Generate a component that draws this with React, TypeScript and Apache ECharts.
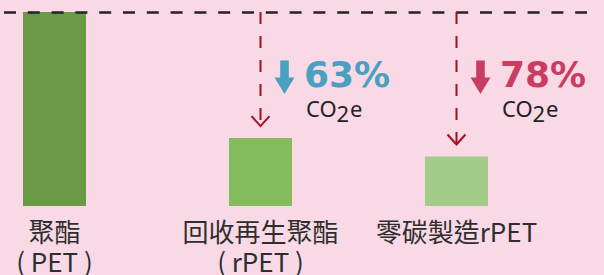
import React, { useEffect, useRef } from "react";
import * as echarts from "echarts";

// ---- data ----
const categories = ["聚酯\n( PET )", "回收再生聚酯\n( rPET )", "零碳製造rPET"];
const values = [100, 35, 25.5];
const reductions = ["63%", "78%"];
const reductionUnit = ["CO", "2", "e"];

// ---- layout / style (not data) ----
const barCenters = [54.5, 260.5, 456.5];
const barColors = ["#6a9a46", "#84bb5b", "#a2cc87"];
const reductionColors = ["#4aa0c0", "#c93d63"];
const BG = "#f9d9e5";

export default function App() {
  const ref = useRef<HTMLDivElement>(null);
  useEffect(() => {
    document.body.style.margin = "0";
    const chart = echarts.init(ref.current!, null, { renderer: "svg" });
    chart.setOption({
      animation: false,
      backgroundColor: BG,
      grid: { left: 0, right: 0, top: 12, bottom: 69, containLabel: false },
      xAxis: { type: "value", min: 0, max: 604, show: false },
      yAxis: { type: "value", min: 0, max: 100, show: false },
      series: [
        {
          type: "bar",
          barWidth: 63,
          data: values.map((v, i) => ({
            value: [barCenters[i], v],
            name: categories[i],
            itemStyle: { color: barColors[i] },
          })),
          label: {
            show: true,
            position: "bottom",
            distance: 9,
            formatter: (p: any) => p.name,
            fontFamily: "'Noto Sans CJK TC', 'Noto Sans', sans-serif",
            fontSize: 26,
            lineHeight: 30,
            color: "#2e2e2e",
            align: "center",
          },
          markLine: {
            silent: true,
            symbol: ["none", "none"],
            label: { show: false },
            lineStyle: { color: "#232323", width: 2.5, type: [12, 11.8] },
            data: [[{ coord: [4, 100] }, { coord: [587, 100] }]],
          },
        },
      ],
    });

    const graphics: any[] = [];
    const topPt = chart.convertToPixel({ gridIndex: 0 }, [0, 100]) as number[];
    for (let i = 1; i < values.length; i++) {
      const [px, py] = chart.convertToPixel({ gridIndex: 0 }, [barCenters[i], values[i]]) as number[];
      const tip = py - 12;
      const red = "#a50f1f";
      graphics.push({
        type: "line",
        shape: { x1: px, y1: topPt[1], x2: px, y2: tip - 1 },
        style: { stroke: red, lineWidth: 2, lineDash: [12, 12] },
        z: 10,
      });
      graphics.push({
        type: "polyline",
        shape: { points: [[px - 9, tip - 10], [px, tip], [px + 9, tip - 10]] },
        style: { stroke: red, lineWidth: 2, fill: null },
        z: 10,
      });
      const c = reductionColors[i - 1];
      const ax = px + 24;
      graphics.push({
        type: "rect",
        shape: { x: ax - 4.3, y: 60.5, width: 8.6, height: 18 },
        style: { fill: c },
        z: 10,
      });
      graphics.push({
        type: "polygon",
        shape: { points: [[ax - 10, 77.5], [ax + 10, 77.5], [ax, 94]] },
        style: { fill: c },
        z: 10,
      });
      const tx = px + 43.5;
      graphics.push({
        type: "text",
        x: tx,
        y: 74,
        style: {
          text: reductions[i - 1],
          fill: c,
          font: "bold 36px 'DejaVu Sans', sans-serif",
          verticalAlign: "middle",
          align: "left",
        },
        z: 10,
      });
      const uf = "'Noto Sans', 'DejaVu Sans', sans-serif";
      graphics.push({
        type: "text",
        x: tx + 2,
        y: 108,
        style: { text: reductionUnit[0], fill: "#222", font: `22px ${uf}`, verticalAlign: "middle", align: "left" },
        z: 10,
      });
      graphics.push({
        type: "text",
        x: tx + 32.5,
        y: 113,
        style: { text: reductionUnit[1], fill: "#222", font: `22px ${uf}`, verticalAlign: "middle", align: "left" },
        z: 10,
      });
      graphics.push({
        type: "text",
        x: tx + 46,
        y: 108,
        style: { text: reductionUnit[2], fill: "#222", font: `22px ${uf}`, verticalAlign: "middle", align: "left" },
        z: 10,
      });
    }
    chart.setOption({ graphic: graphics });
    return () => chart.dispose();
  }, []);
  return (
    <div
      ref={ref}
      style={{ position: "fixed", left: 0, top: 0, width: 604, height: 275 }}
    />
  );
}
